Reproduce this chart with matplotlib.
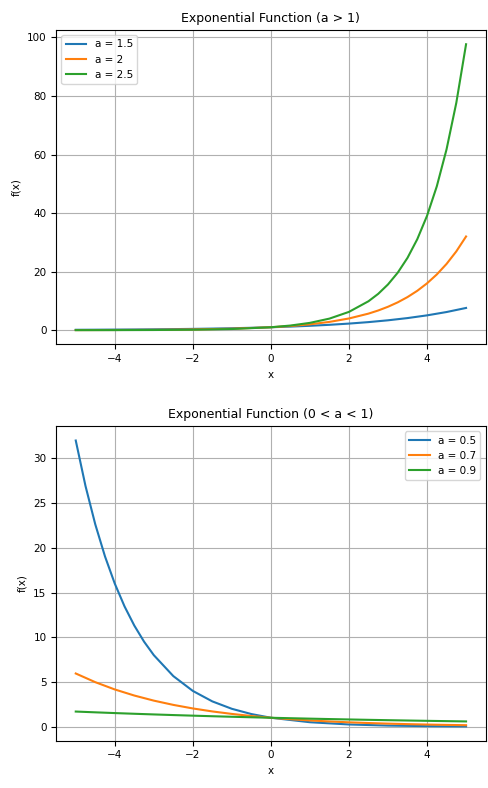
import matplotlib.pyplot as plt

x = [-5, -4.5, -4, -3.5, -3, -2.5, -2, -1.5, -1, -0.5, 0, 0.5, 1, 1.5, 2, 2.5, 3, 3.5, 4, 4.5, 5]
# denser readings on the steep right part (a > 1)
x_right = [-5, -4, -3, -2, -1, 0, 0.5, 1, 1.5, 2, 2.5, 2.75, 3, 3.25, 3.5, 3.75, 4, 4.25, 4.5, 4.75, 5]
# denser readings on the steep left part (a = 0.5)
x_left = [-5, -4.75, -4.5, -4.25, -4, -3.75, -3.5, -3.25, -3, -2.5, -2, -1.5, -1, -0.5, 0, 1, 2, 3, 4, 5]

y15 = [0.132, 0.161, 0.198, 0.242, 0.296, 0.363, 0.444, 0.544, 0.667, 0.816, 1, 1.225, 1.5, 1.837,
       2.25, 2.756, 3.375, 4.134, 5.063, 6.2, 7.594]
y20 = [0.031, 0.063, 0.125, 0.25, 0.5, 1, 1.414, 2, 2.828, 4, 5.657, 6.73, 8, 9.51,
       11.31, 13.45, 16, 19.03, 22.63, 26.91, 32]
y25 = [0.0102, 0.0256, 0.064, 0.16, 0.4, 1, 1.581, 2.5, 3.953, 6.25, 9.882, 12.42, 15.63, 19.65,
       24.71, 31.07, 39.06, 49.12, 61.76, 77.65, 97.66]
y05 = [32, 26.91, 22.63, 19.03, 16, 13.45, 11.31, 9.51, 8, 5.657, 4, 2.828, 2, 1.414, 1,
       0.5, 0.25, 0.125, 0.063, 0.031]
y07 = [5.95, 4.98, 4.165, 3.485, 2.915, 2.439, 2.041, 1.707, 1.429, 1.195, 1, 0.837, 0.7, 0.586,
       0.49, 0.41, 0.343, 0.287, 0.24, 0.201, 0.168]
y09 = [1.694, 1.607, 1.524, 1.446, 1.372, 1.301, 1.235, 1.171, 1.111, 1.054, 1, 0.949, 0.9, 0.854,
       0.81, 0.768, 0.729, 0.692, 0.656, 0.623, 0.59]

plt.rcParams['font.size'] = 7.5
fig, (ax1, ax2) = plt.subplots(2, 1, figsize=(4.89, 7.88), dpi=100)
fig.subplots_adjust(left=0.115, right=0.993, top=0.962, bottom=0.06, hspace=0.26)

ax1.plot(x, y15, label='a = 1.5')
ax1.plot(x_right, y20, label='a = 2')
ax1.plot(x_right, y25, label='a = 2.5')
ax1.set_title('Exponential Function (a > 1)', fontsize=9)
ax1.set_xlabel('x')
ax1.set_ylabel('f(x)')
ax1.grid(True)
ax1.legend(loc='upper left')

ax2.plot(x_left, y05, label='a = 0.5')
ax2.plot(x, y07, label='a = 0.7')
ax2.plot(x, y09, label='a = 0.9')
ax2.set_title('Exponential Function (0 < a < 1)', fontsize=9)
ax2.set_xlabel('x')
ax2.set_ylabel('f(x)')
ax2.grid(True)
ax2.legend(loc='upper right')

fig.savefig('out.png')
